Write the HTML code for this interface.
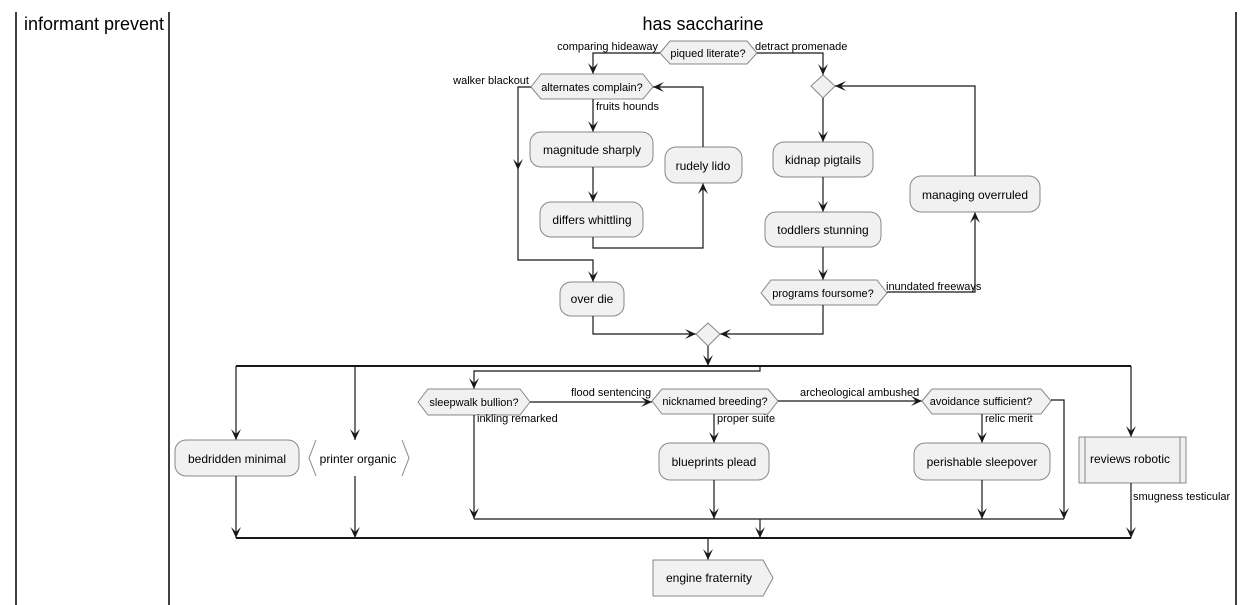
<!DOCTYPE html>
<html><head><meta charset="utf-8"><style>
html,body{margin:0;padding:0;background:#fff;}
svg{display:block;font-family:"Liberation Sans",Arial,sans-serif;}
.n{fill:#F1F1F1;stroke:#888;stroke-width:1;}
.l{fill:none;stroke:#181818;stroke-width:1.2;}
.b{fill:none;stroke:#181818;stroke-width:2;}
.t{font-size:12px;fill:#000;}
.s{font-size:11px;fill:#000;}
.a{fill:#181818;}
</style></head><body>
<svg width="1253" height="605" viewBox="0 0 1253 605">
<defs>
<path id="ad" class="a" d="M0,0 L-5,-11 L0,-6 L5,-11 Z"/>
</defs>
<line x1="16" y1="12" x2="16" y2="605" stroke="#000" stroke-width="1.5"/>
<line x1="169" y1="12" x2="169" y2="605" stroke="#000" stroke-width="1.5"/>
<line x1="1236" y1="12" x2="1236" y2="605" stroke="#000" stroke-width="1.5"/>
<text x="94" y="30" font-size="18" text-anchor="middle">informant prevent</text>
<text x="703" y="30" font-size="18" text-anchor="middle">has saccharine</text>

<polygon class="n" points="660,53 670,41 747,41 757,53 747,64 670,64"/>
<text class="s" x="708" y="57" text-anchor="middle">piqued literate?</text>
<polyline class="l" points="660,53 593,53 593,74"/>
<use href="#ad" x="593" y="74"/>
<text class="s" x="658" y="50" text-anchor="end">comparing hideaway</text>
<polyline class="l" points="757,53 823,53 823,75"/>
<use href="#ad" x="823" y="75"/>
<text class="s" x="755" y="50">detract promenade</text>

<polygon class="n" points="531,87 541,74 643,74 653,87 643,99 541,99"/>
<text class="s" x="592" y="91" text-anchor="middle">alternates complain?</text>
<text class="s" x="529" y="84" text-anchor="end">walker blackout</text>
<polyline class="l" points="531,87 518,87 518,260 593,260 593,282"/>
<use href="#ad" x="518" y="170"/>
<use href="#ad" x="593" y="282"/>
<line class="l" x1="593" y1="99" x2="593" y2="132"/>
<use href="#ad" x="593" y="132"/>
<text class="s" x="596" y="110">fruits hounds</text>
<rect class="n" x="530" y="132" width="123" height="35" rx="11"/>
<text class="t" x="592" y="154" text-anchor="middle">magnitude sharply</text>
<line class="l" x1="593" y1="167" x2="593" y2="202"/>
<use href="#ad" x="593" y="202"/>
<rect class="n" x="540" y="202" width="103" height="35" rx="11"/>
<text class="t" x="592" y="224" text-anchor="middle">differs whittling</text>
<polyline class="l" points="593,237 593,248 703,248 703,183"/>
<use href="#ad" transform="translate(703,183) rotate(180)"/>
<rect class="n" x="665" y="147" width="77" height="36" rx="11"/>
<text class="t" x="703" y="170" text-anchor="middle">rudely lido</text>
<polyline class="l" points="703,147 703,87 653,87"/>
<use href="#ad" transform="translate(653,87) rotate(90)"/>
<rect class="n" x="560" y="282" width="64" height="34" rx="11"/>
<text class="t" x="592" y="303" text-anchor="middle">over die</text>
<polyline class="l" points="593,316 593,334 696,334"/>
<use href="#ad" transform="translate(696,334) rotate(-90)"/>

<polygon class="n" points="823,75 835,86 823,98 811,86"/>
<line class="l" x1="823" y1="98" x2="823" y2="142"/>
<use href="#ad" x="823" y="142"/>
<rect class="n" x="773" y="142" width="100" height="35" rx="11"/>
<text class="t" x="823" y="164" text-anchor="middle">kidnap pigtails</text>
<line class="l" x1="823" y1="177" x2="823" y2="212"/>
<use href="#ad" x="823" y="212"/>
<rect class="n" x="765" y="212" width="116" height="35" rx="11"/>
<text class="t" x="823" y="234" text-anchor="middle">toddlers stunning</text>
<line class="l" x1="823" y1="247" x2="823" y2="280"/>
<use href="#ad" x="823" y="280"/>
<polygon class="n" points="761,293 771,280 877,280 887,293 877,305 771,305"/>
<text class="s" x="823" y="297" text-anchor="middle">programs foursome?</text>
<polyline class="l" points="887,292 975,292 975,212"/>
<use href="#ad" transform="translate(975,212) rotate(180)"/>
<text class="s" x="886" y="290">inundated freeways</text>
<rect class="n" x="910" y="176" width="130" height="36" rx="11"/>
<text class="t" x="975" y="199" text-anchor="middle">managing overruled</text>
<polyline class="l" points="975,176 975,86 835,86"/>
<use href="#ad" transform="translate(835,86) rotate(90)"/>
<polyline class="l" points="823,305 823,334 720,334"/>
<use href="#ad" transform="translate(720,334) rotate(90)"/>

<polygon class="n" points="708,323 720,334 708,346 696,334"/>
<line class="l" x1="708" y1="346" x2="708" y2="366"/>
<use href="#ad" x="708" y="366"/>
<line class="b" x1="236" y1="366" x2="1131" y2="366"/>

<line class="l" x1="236" y1="366" x2="236" y2="440"/>
<use href="#ad" x="236" y="440"/>
<rect class="n" x="175" y="440" width="124" height="36" rx="11"/>
<text class="t" x="237" y="463" text-anchor="middle">bedridden minimal</text>
<line class="l" x1="236" y1="476" x2="236" y2="538"/>
<use href="#ad" x="236" y="538"/>

<line class="l" x1="355" y1="366" x2="355" y2="440"/>
<use href="#ad" x="355" y="440"/>
<polyline points="316,440 309,458 316,476" fill="none" stroke="#888"/>
<polyline points="402,440 409,458 402,476" fill="none" stroke="#888"/>
<text class="t" x="358" y="463" text-anchor="middle">printer organic</text>
<line class="l" x1="355" y1="476" x2="355" y2="538"/>
<use href="#ad" x="355" y="538"/>

<polyline class="l" points="760,366 760,371 474,371 474,389"/>
<use href="#ad" x="474" y="389"/>
<polygon class="n" points="418,402 428,389 520,389 530,402 520,415 428,415"/>
<text class="s" x="474" y="406" text-anchor="middle">sleepwalk bullion?</text>
<line class="l" x1="474" y1="415" x2="474" y2="519"/>
<use href="#ad" x="474" y="519"/>
<text class="s" x="477" y="422">inkling remarked</text>
<line class="l" x1="530" y1="402" x2="652" y2="402"/>
<use href="#ad" transform="translate(652,402) rotate(-90)"/>
<text class="s" x="571" y="396">flood sentencing</text>

<polygon class="n" points="652,401 662,389 768,389 778,401 768,414 662,414"/>
<text class="s" x="715" y="405" text-anchor="middle">nicknamed breeding?</text>
<line class="l" x1="714" y1="414" x2="714" y2="443"/>
<use href="#ad" x="714" y="443"/>
<text class="s" x="717" y="422">proper suite</text>
<rect class="n" x="659" y="443" width="110" height="37" rx="11"/>
<text class="t" x="714" y="466" text-anchor="middle">blueprints plead</text>
<line class="l" x1="714" y1="480" x2="714" y2="519"/>
<use href="#ad" x="714" y="519"/>
<line class="l" x1="778" y1="401" x2="922" y2="401"/>
<use href="#ad" transform="translate(922,401) rotate(-90)"/>
<text class="s" x="800" y="396">archeological ambushed</text>

<polygon class="n" points="922,401 932,389 1041,389 1051,401 1041,414 932,414"/>
<text class="s" x="981" y="405" text-anchor="middle">avoidance sufficient?</text>
<line class="l" x1="982" y1="414" x2="982" y2="443"/>
<use href="#ad" x="982" y="443"/>
<text class="s" x="985" y="422">relic merit</text>
<rect class="n" x="914" y="443" width="136" height="37" rx="11"/>
<text class="t" x="982" y="466" text-anchor="middle">perishable sleepover</text>
<line class="l" x1="982" y1="480" x2="982" y2="519"/>
<use href="#ad" x="982" y="519"/>
<polyline class="l" points="1051,400 1064,400 1064,519"/>
<use href="#ad" x="1064" y="519"/>
<line class="l" x1="474" y1="519" x2="1064" y2="519"/>
<line class="l" x1="760" y1="519" x2="760" y2="538"/>
<use href="#ad" x="760" y="538"/>

<line class="l" x1="1131" y1="366" x2="1131" y2="437"/>
<use href="#ad" x="1131" y="437"/>
<rect class="n" x="1079" y="437" width="107" height="46"/>
<line x1="1085" y1="437" x2="1085" y2="483" stroke="#888"/>
<line x1="1180" y1="437" x2="1180" y2="483" stroke="#888"/>
<text class="t" x="1130" y="463" text-anchor="middle">reviews robotic</text>
<line class="l" x1="1131" y1="483" x2="1131" y2="538"/>
<use href="#ad" x="1131" y="538"/>
<text class="s" x="1133" y="500">smugness testicular</text>

<line class="b" x1="236" y1="538" x2="1131" y2="538"/>
<line class="l" x1="708" y1="538" x2="708" y2="560"/>
<use href="#ad" x="708" y="560"/>
<polygon class="n" points="653,560 763,560 773,578 763,596 653,596"/>
<text class="t" x="709" y="582" text-anchor="middle">engine fraternity</text>
</svg>
</body></html>
